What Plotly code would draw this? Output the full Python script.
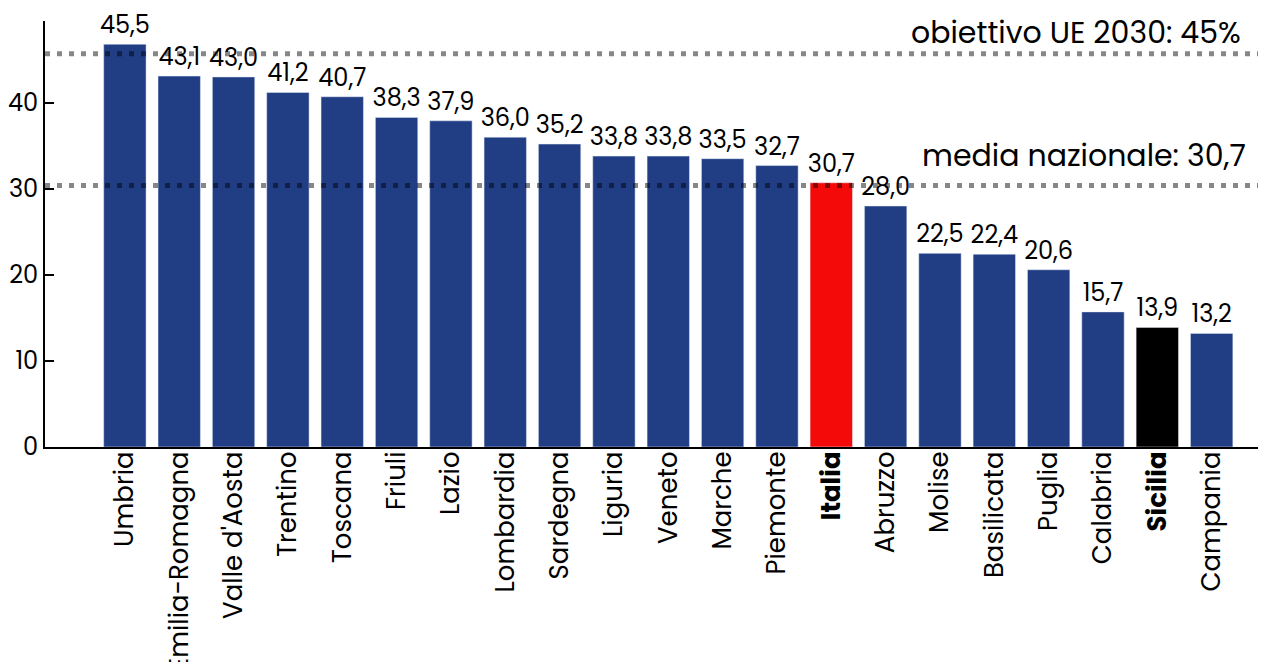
import plotly.graph_objects as go

# dati
regioni = ["Umbria", "Emilia-Romagna", "Valle d'Aosta", "Trentino", "Toscana",
           "Friuli", "Lazio", "Lombardia", "Sardegna", "Liguria", "Veneto",
           "Marche", "Piemonte", "Italia", "Abruzzo", "Molise", "Basilicata",
           "Puglia", "Calabria", "Sicilia", "Campania"]
valori = [46.8, 43.1, 43.0, 41.2, 40.7, 38.3, 37.9, 36.0, 35.2, 33.8, 33.8,
          33.5, 32.7, 30.7, 28.0, 22.5, 22.4, 20.6, 15.7, 13.9, 13.2]
etichette = ["45,5", "43,1", "43,0", "41,2", "40,7", "38,3", "37,9", "36,0",
             "35,2", "33,8", "33,8", "33,5", "32,7", "30,7", "28,0", "22,5",
             "22,4", "20,6", "15,7", "13,9", "13,2"]
obiettivo_ue = 45.7
media_nazionale = 30.4

BLU = "#213d84"
colori = []
for r in regioni:
    if r == "Italia":
        colori.append("#f50a0a")
    elif r == "Sicilia":
        colori.append("#000000")
    else:
        colori.append(BLU)

tick_text = ["<b>%s</b>" % r if r in ("Italia", "Sicilia") else r for r in regioni]

FONT = "Poppins, Inter, sans-serif"

fig = go.Figure(go.Bar(
    x=list(range(len(regioni))),
    y=valori,
    marker_color=colori,
    text=etichette,
    textposition="outside",
    textfont=dict(size=24, color="black", family=FONT),
    constraintext="none",
    cliponaxis=False,
    width=0.78,
))

## linee tratteggiate
for yv in (obiettivo_ue, media_nazionale):
    fig.add_shape(type="line", xref="paper", x0=0, x1=1, y0=yv, y1=yv,
                  line=dict(color="rgba(0,0,0,0.47)", width=5, dash="5px,7px"),
                  layer="above")

fig.add_annotation(xref="paper", x=0.981, y=obiettivo_ue, xanchor="right",
                   yanchor="bottom", yshift=-2, text="obiettivo UE 2030: 45%",
                   showarrow=False, font=dict(size=30, color="black", family=FONT))
fig.add_annotation(xref="paper", x=0.985, y=media_nazionale, xanchor="right",
                   yanchor="bottom", yshift=6, text="media nazionale: 30,7",
                   showarrow=False, font=dict(size=30, color="black", family=FONT))

# la pagina html ha 8px di margine sul body
fig.update_layout(
    width=1258, height=654,
    margin=dict(l=37, r=0, t=13, b=215),
    plot_bgcolor="white", paper_bgcolor="white",
    showlegend=False,
    font=dict(family=FONT, color="black"),
)
fig.update_xaxes(
    range=[-1.47, 21.0],
    tickvals=list(range(len(regioni))), ticktext=tick_text,
    tickangle=-90, tickfont=dict(size=26),
    showline=True, linecolor="black", linewidth=2,
    showgrid=False, ticks="", ticklabelstandoff=-8,
    automargin=False,
)
fig.update_yaxes(
    range=[0, 49.5],
    tickvals=[0, 10, 20, 30, 40],
    tickfont=dict(size=24),
    showline=True, linecolor="black", linewidth=2,
    ticks="inside", ticklen=9, tickwidth=2, tickcolor="black",
    showgrid=False, zeroline=False, automargin=False,
)

fig.write_html("out.html")
